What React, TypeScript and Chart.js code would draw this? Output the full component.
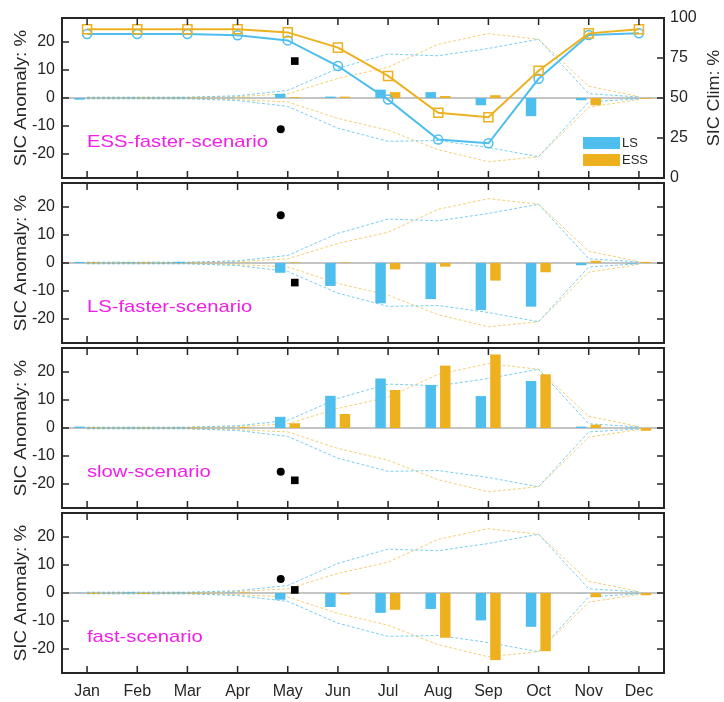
import React, { useEffect, useRef } from "react";
import { Chart, registerables } from "chart.js";

Chart.register(...registerables);

const MONTHS = ["Jan", "Feb", "Mar", "Apr", "May", "Jun", "Jul", "Aug", "Sep", "Oct", "Nov", "Dec"];
const SCENARIOS = ["ESS-faster-scenario", "LS-faster-scenario", "slow-scenario", "fast-scenario"];
const Y_TICKS = [-20, -10, 0, 10, 20];
const CLIM_TICKS = [0, 25, 50, 75, 100];

// Anomaly bars (%), per scenario panel
const LS_ANOM_ESS_FASTER = [-0.6, 0.1, 0.1, 0.1, 1.5, 0.5, 3.0, 2.1, -2.6, -6.5, -0.8, -0.1];
const ESS_ANOM_ESS_FASTER = [0, 0.1, 0.1, 0.1, 0.3, 0.5, 2.1, 0.7, 1.0, 0, -2.6, -0.3];
const LS_ANOM_LS_FASTER = [0.4, 0.1, 0.4, 0.1, -3.5, -8.2, -14.4, -12.9, -16.8, -15.6, -0.8, -0.2];
const ESS_ANOM_LS_FASTER = [0.2, 0.2, 0.1, 0.1, 0.2, 0.2, -2.3, -1.3, -6.3, -3.3, 0.8, 0.4];
const LS_ANOM_SLOW = [0.5, 0.1, 0.1, 0.1, 4.0, 11.5, 17.7, 15.4, 11.4, 16.8, 0.5, 0.1];
const ESS_ANOM_SLOW = [0.1, 0.1, 0.2, 0.3, 1.7, 5.0, 13.6, 22.3, 26.3, 19.2, 1.2, -1.0];
const LS_ANOM_FAST = [0.1, 0.2, 0.1, 0.1, -2.4, -5.0, -7.1, -5.7, -9.8, -12.1, -0.1, -0.1];
const ESS_ANOM_FAST = [-0.3, -0.3, -0.2, 0.2, 0.1, -0.5, -6.0, -16.0, -24.0, -20.8, -1.5, -0.8];

// Climatology (%), right axis of top panel
const LS_CLIM = [90, 90, 90, 89.2, 86, 70, 49, 24, 21.7, 62, 89.4, 90.4];
const ESS_CLIM = [93, 93, 93, 93, 91, 81.5, 63.8, 40.8, 38, 67, 90.4, 93];

// Spread envelopes (%)
const LS_UPPER = [0.3, 0.3, 0.3, 0.8, 2.7, 10.6, 15.7, 15.1, 17.7, 21.0, 1.5, 0.4];
const LS_LOWER = [-0.3, -0.3, -0.3, -0.9, -3.0, -10.8, -15.5, -15.2, -17.7, -21.0, -1.4, -0.3];
const ESS_UPPER = [0.2, 0.2, 0.2, 0.5, 1.5, 7.0, 11.0, 19.2, 23.0, 21.0, 4.2, 0.5];
const ESS_LOWER = [-0.2, -0.2, -0.2, -0.6, -1.4, -7.3, -11.5, -18.5, -22.8, -21.0, -3.3, -0.5];

// May markers per panel
const CIRCLE_VALUES = [-11.2, 17.1, -15.6, 5.0];
const SQUARE_VALUES = [13.2, -7.0, -18.7, 1.1];
const MARKER_MONTH = 4;

const LS_ANOM = [LS_ANOM_ESS_FASTER, LS_ANOM_LS_FASTER, LS_ANOM_SLOW, LS_ANOM_FAST];
const ESS_ANOM = [ESS_ANOM_ESS_FASTER, ESS_ANOM_LS_FASTER, ESS_ANOM_SLOW, ESS_ANOM_FAST];

const FONT = "'Liberation Sans', Arial, Helvetica, sans-serif";
const TXT = "#262626";
const BLUE = "#4DBEEE";
const ORANGE = "#EDB120";
const MAGENTA = "#F01EE6";

const PANEL_TOPS = [18, 183, 348, 513];
const PLOT_H = 160;
const PAD = 18;
const X_AXIS_H = 29;

function stretchedText(ctx: CanvasRenderingContext2D, text: string, x: number, y: number, size: number, sx: number, rotate: boolean, align: CanvasTextAlign, color: string) {
  ctx.save();
  ctx.translate(x, y);
  if (rotate) ctx.rotate(-Math.PI / 2);
  ctx.scale(sx, 1);
  ctx.font = `${size}px ${FONT}`;
  ctx.fillStyle = color;
  ctx.textAlign = align;
  ctx.textBaseline = "middle";
  ctx.fillText(text, 0, 0);
  ctx.restore();
}

const framePlugin = {
  id: "frame",
  beforeDatasetsDraw(chart: any) {
    const { ctx, chartArea } = chart;
    const y0 = chart.scales.y.getPixelForValue(0);
    ctx.save();
    ctx.strokeStyle = "#8a8a8a";
    ctx.lineWidth = 1;
    ctx.beginPath();
    ctx.moveTo(chartArea.left, y0);
    ctx.lineTo(chartArea.right, y0);
    ctx.stroke();
    ctx.restore();
  },
  afterDraw(chart: any, _args: any, opts: any) {
    const { ctx, chartArea } = chart;
    const { left, right, top, bottom } = chartArea;
    const xs = chart.scales.x;
    const ys = chart.scales.y;
    const panel: number = opts.panel;
    ctx.save();
    ctx.strokeStyle = TXT;
    ctx.lineWidth = 1.5;
    const tl = 7;
    ctx.beginPath();
    MONTHS.forEach((_m, i) => {
      const x = xs.getPixelForValue(i);
      ctx.moveTo(x, top);
      ctx.lineTo(x, top + tl);
      ctx.moveTo(x, bottom);
      ctx.lineTo(x, bottom - tl);
    });
    Y_TICKS.forEach((v) => {
      const y = ys.getPixelForValue(v);
      ctx.moveTo(left, y);
      ctx.lineTo(left + tl, y);
    });
    if (panel === 0) {
      const y1 = chart.scales.y1;
      CLIM_TICKS.forEach((v) => {
        const y = y1.getPixelForValue(v);
        ctx.moveTo(right, y);
        ctx.lineTo(right - tl, y);
      });
    } else {
      Y_TICKS.forEach((v) => {
        const y = ys.getPixelForValue(v);
        ctx.moveTo(right, y);
        ctx.lineTo(right - tl, y);
      });
    }
    ctx.stroke();
    ctx.lineWidth = 2;
    ctx.strokeRect(left, top, right - left, bottom - top);
    ctx.restore();

    const cy = (top + bottom) / 2;
    stretchedText(ctx, "SIC Anomaly: %", 22, cy, 16, 1.17, true, "center", TXT);
    stretchedText(ctx, SCENARIOS[panel], left + 25, top + 124.5, 17, 1.19, false, "left", MAGENTA);

    if (panel === 0) {
      stretchedText(ctx, "SIC Clim: %", 715, cy, 16, 1.12, true, "center", TXT);
      ctx.save();
      ctx.fillStyle = BLUE;
      ctx.fillRect(right - 81, bottom - 41, 37, 12);
      ctx.fillStyle = ORANGE;
      ctx.fillRect(right - 81, bottom - 24, 37, 12);
      ctx.fillStyle = TXT;
      ctx.font = `13px ${FONT}`;
      ctx.textAlign = "left";
      ctx.textBaseline = "middle";
      ctx.fillText("LS", right - 42, bottom - 35);
      ctx.fillText("ESS", right - 42, bottom - 18);
      ctx.restore();
    }
  },
};

function pts(values: number[], offset: number) {
  return values.map((v, i) => ({ x: i + offset, y: v }));
}

function makeConfig(panel: number): any {
  const isTop = panel === 0;
  const isBottom = panel === 3;
  const datasets: any[] = [];

  datasets.push({
    type: "line",
    label: "circle",
    data: [{ x: MARKER_MONTH - 0.14, y: CIRCLE_VALUES[panel] }],
    showLine: false,
    pointStyle: "circle",
    pointRadius: 4,
    pointBackgroundColor: "#000",
    pointBorderColor: "#000",
    pointBorderWidth: 0,
    yAxisID: "y",
  });
  datasets.push({
    type: "line",
    label: "square",
    data: [{ x: MARKER_MONTH + 0.14, y: SQUARE_VALUES[panel] }],
    showLine: false,
    pointStyle: "rect",
    pointRadius: 5.4,
    pointBackgroundColor: "#000",
    pointBorderColor: "#000",
    pointBorderWidth: 0,
    yAxisID: "y",
  });

  if (isTop) {
    datasets.push({
      type: "line",
      label: "ESS clim",
      data: pts(ESS_CLIM, 0),
      borderColor: ORANGE,
      borderWidth: 2,
      pointStyle: "rect",
      pointRadius: 6.4,
      pointBorderWidth: 1.5,
      pointBorderColor: ORANGE,
      pointBackgroundColor: "rgba(0,0,0,0)",
      yAxisID: "y1",
    });
    datasets.push({
      type: "line",
      label: "LS clim",
      data: pts(LS_CLIM, 0),
      borderColor: BLUE,
      borderWidth: 2,
      pointStyle: "circle",
      pointRadius: 4.5,
      pointBorderWidth: 1.5,
      pointBorderColor: BLUE,
      pointBackgroundColor: "rgba(0,0,0,0)",
      yAxisID: "y1",
    });
  }

  datasets.push({
    type: "bar",
    label: "LS",
    data: pts(LS_ANOM[panel], -0.15),
    backgroundColor: BLUE,
    borderWidth: 0,
    grouped: false,
    maxBarThickness: 10.5,
    yAxisID: "y",
  });
  datasets.push({
    type: "bar",
    label: "ESS",
    data: pts(ESS_ANOM[panel], 0.14),
    backgroundColor: ORANGE,
    borderWidth: 0,
    grouped: false,
    maxBarThickness: 10.5,
    yAxisID: "y",
  });

  const env = (vals: number[], color: string) => ({
    type: "line",
    data: pts(vals, 0),
    borderColor: color,
    borderWidth: 1,
    borderDash: [3, 2],
    pointRadius: 0,
    yAxisID: "y",
  });
  datasets.push(env(LS_UPPER, "rgba(77,190,238,0.75)"));
  datasets.push(env(LS_LOWER, "rgba(77,190,238,0.75)"));
  datasets.push(env(ESS_UPPER, "rgba(237,177,32,0.6)"));
  datasets.push(env(ESS_LOWER, "rgba(237,177,32,0.6)"));

  const scales: any = {
    x: {
      type: "linear",
      min: -0.5,
      max: 11.5,
      offset: false,
      display: isBottom,
      grid: { display: false, drawTicks: false },
      border: { display: false },
      ticks: {
        padding: 9,
        color: TXT,
        font: { size: 16, family: FONT },
        autoSkip: false,
        maxRotation: 0,
        callback: (v: number) => MONTHS[v] ?? "",
      },
      afterBuildTicks: (s: any) => {
        s.ticks = MONTHS.map((_m, k) => ({ value: k }));
      },
      afterFit: (s: any) => {
        if (isBottom) {
          s.height = X_AXIS_H;
          s.paddingLeft = 0;
          s.paddingRight = 0;
        }
      },
    },
    y: {
      type: "linear",
      position: "left",
      min: -28.6,
      max: 28.6,
      grid: { display: false, drawTicks: false },
      border: { display: false },
      ticks: { padding: 7, color: TXT, font: { size: 16, family: FONT } },
      afterBuildTicks: (s: any) => {
        s.ticks = Y_TICKS.map((v) => ({ value: v }));
      },
      afterFit: (s: any) => {
        s.width = 62;
        s.paddingTop = 0;
        s.paddingBottom = 0;
      },
    },
  };
  if (isTop) {
    scales.y1 = {
      type: "linear",
      position: "right",
      min: 0,
      max: 100,
      grid: { display: false, drawTicks: false },
      border: { display: false },
      ticks: { padding: 6, color: TXT, font: { size: 16, family: FONT } },
      afterBuildTicks: (s: any) => {
        s.ticks = CLIM_TICKS.map((v) => ({ value: v }));
      },
      afterFit: (s: any) => {
        s.width = 60;
        s.paddingTop = 0;
        s.paddingBottom = 0;
      },
    };
  }

  return {
    type: "bar",
    data: { datasets },
    options: {
      responsive: false,
      animation: false,
      parsing: true,
      layout: {
        padding: { top: PAD, bottom: isBottom ? 0 : PAD, left: 0, right: isTop ? 0 : 60 },
      },
      scales,
      plugins: {
        legend: { display: false },
        tooltip: { enabled: false },
        frame: { panel },
      },
    },
    plugins: [framePlugin],
  };
}

export default function App() {
  const canvases = useRef<(HTMLCanvasElement | null)[]>([]);
  useEffect(() => {
    const charts = canvases.current.map((c, i) => new Chart(c as HTMLCanvasElement, makeConfig(i)));
    return () => charts.forEach((ch) => ch.destroy());
  }, []);
  return (
    <div style={{ position: "absolute", left: 0, top: 0, width: 724, height: 702, background: "#fff" }}>
      {PANEL_TOPS.map((t, i) => {
        const h = i === 3 ? PAD + PLOT_H + X_AXIS_H : PAD * 2 + PLOT_H;
        return (
          <canvas
            key={i}
            ref={(el) => {
              canvases.current[i] = el;
            }}
            width={724}
            height={h}
            style={{ position: "absolute", left: 0, top: t - PAD, width: 724, height: h }}
          />
        );
      })}
    </div>
  );
}
